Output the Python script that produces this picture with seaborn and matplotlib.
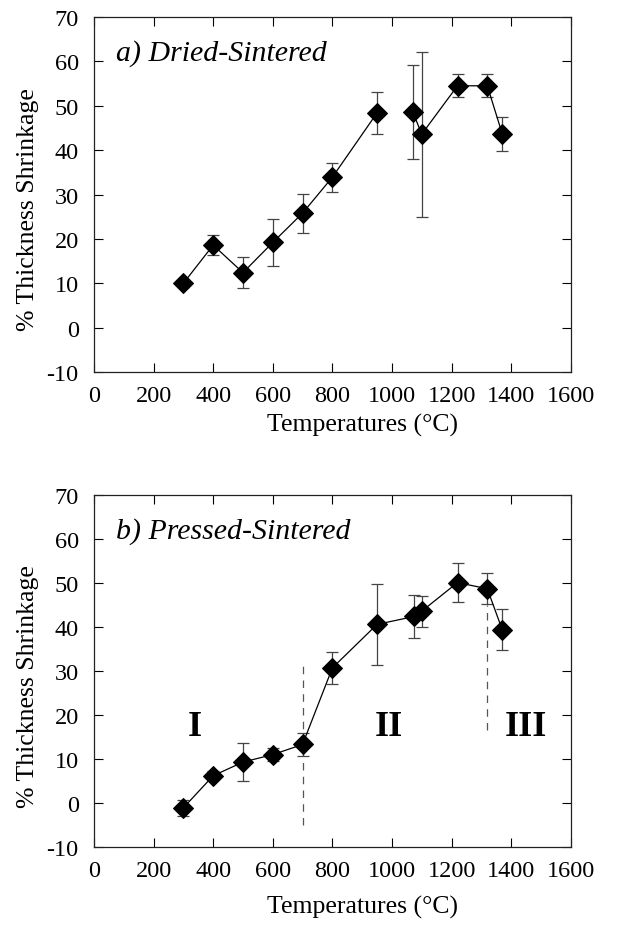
import numpy as np
import pandas as pd
import matplotlib
matplotlib.use("Agg")
import matplotlib.pyplot as plt
import seaborn as sns

# a) dried-sintered (line is broken between 950 and 1070)
temp_a = [300, 400, 500, 600, 700, 800, 950, 1070, 1100, 1220, 1320, 1370]
shrink_a = [10.0, 18.6, 12.4, 19.2, 25.8, 33.9, 48.4, 48.6, 43.6, 54.5, 54.5, 43.7]
err_a = [0.8, 2.3, 3.5, 5.2, 4.4, 3.3, 4.7, 10.6, 18.6, 2.6, 2.6, 3.8]
seg_a = [0, 0, 0, 0, 0, 0, 0, 1, 1, 1, 1, 1]

# b) pressed-sintered
temp_b = [300, 400, 500, 600, 700, 800, 950, 1075, 1100, 1220, 1320, 1370]
shrink_b = [-1.1, 6.2, 9.3, 11.0, 13.3, 30.7, 40.6, 42.4, 43.6, 50.1, 48.7, 39.4]
err_b = [1.8, 1.0, 4.3, 1.4, 2.6, 3.7, 9.2, 4.8, 3.5, 4.4, 3.5, 4.7]
seg_b = [0] * 12

stage_labels = ["I", "II", "III"]
stage_x = [340, 990, 1450]
stage_y = [17.5, 17.5, 17.5]
divider_x = [700, 1320]
divider_lo = [-5, 16.5]
divider_hi = [31.5, 45]

sns.set_style("ticks")
plt.rcParams["font.family"] = ["Liberation Serif", "DejaVu Serif"]
plt.rcParams["axes.unicode_minus"] = False
plt.rcParams["text.color"] = "black"
plt.rcParams["axes.labelcolor"] = "black"
plt.rcParams["xtick.color"] = "black"
plt.rcParams["ytick.color"] = "black"

fig = plt.figure(figsize=(6.42, 9.28), dpi=100)
ax_a = fig.add_axes([0.1464, 0.598, 0.7426, 0.3826])
ax_b = fig.add_axes([0.1464, 0.0862, 0.7426, 0.3793])


def draw_panel(ax, temp, shrink, err, seg, title, xlab_y):
    df = pd.DataFrame({"T": temp, "S": shrink, "seg": seg})
    ax.errorbar(temp, shrink, yerr=err, fmt="none", ecolor="#444444",
                elinewidth=0.9, capsize=4.5, capthick=0.9, zorder=2)
    sns.lineplot(data=df, x="T", y="S", units="seg", estimator=None, ax=ax,
                 color="black", linewidth=0.9, marker="D", markersize=10,
                 markeredgecolor="black", markerfacecolor="black",
                 sort=False, zorder=3)
    ax.set_xlim(0, 1600)
    ax.set_ylim(-10, 70)
    ax.set_xticks(np.arange(0, 1601, 200))
    ax.set_yticks(np.arange(-10, 71, 10))
    ax.tick_params(direction="in", top=True, right=True, length=6.5,
                   width=0.8, labelsize=17.5)
    ax.tick_params(axis="x", pad=9)
    ax.tick_params(axis="y", pad=11)
    for s in ax.spines.values():
        s.set_linewidth(0.9)
        s.set_color("#222222")
    ax.set_xlabel("Temperatures (°C)", fontsize=18.5)
    ax.set_ylabel("% Thickness Shrinkage", fontsize=18.5)
    ax.xaxis.set_label_coords(0.564, xlab_y)
    ax.yaxis.set_label_coords(-0.115, 0.46)
    ax.text(74, 62, title, fontsize=21.5, style="italic", va="center")


draw_panel(ax_a, temp_a, shrink_a, err_a, seg_a, "a) Dried-Sintered", -0.115)
draw_panel(ax_b, temp_b, shrink_b, err_b, seg_b, "b) Pressed-Sintered", -0.135)

for x, lo, hi in zip(divider_x, divider_lo, divider_hi):
    ax_b.plot([x, x], [lo, hi], color="#555555", linestyle=(0, (6, 5)),
              linewidth=0.9, zorder=1)
for lab, x, y in zip(stage_labels, stage_x, stage_y):
    ax_b.text(x, y, lab, fontsize=26, fontweight="bold", ha="center",
              va="center")

fig.savefig("out.png", dpi=100)
